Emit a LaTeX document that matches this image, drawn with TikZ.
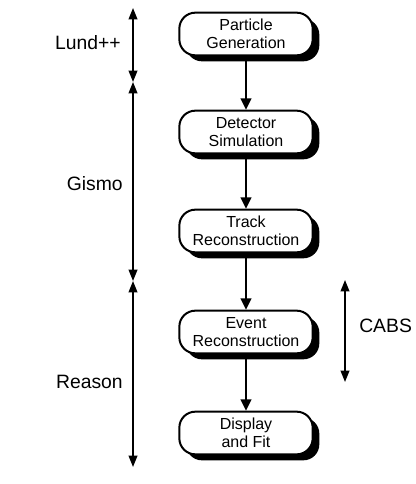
\documentclass[tikz,border=0pt]{standalone}
\usepackage{fontspec}
\setmainfont{Liberation Sans}
\usepackage{tikz}
\usetikzlibrary{arrows.meta, positioning, shadows}

\begin{document}
\begin{tikzpicture}[x=0.75pt, y=-0.75pt,
  stage/.style={draw=black, line width=1.5pt, fill=white, rounded corners=12pt,
    minimum width=100pt, minimum height=32pt, align=center, inner sep=1pt,
    font=\fontsize{12}{13.5}\selectfont,
    drop shadow={shadow xshift=5pt, shadow yshift=-4.5pt, fill=black, opacity=1}},
  flow/.style={line width=1.4pt, -{Triangle[length=8.5pt, width=8pt]}},
  span/.style={line width=1.3pt, {Triangle[length=8.5pt, width=6.5pt]}-{Triangle[length=8.5pt, width=6.5pt]}},
  tool/.style={font=\fontsize{14.5}{16}\selectfont, inner sep=0pt}]
  \useasboundingbox (0,0) rectangle (415,484);
  % processing chain (centre column)
  \node[stage] (gen) at (246,34)  {Particle\\Generation};
  \node[stage] (sim) at (246,132) {Detector\\Simulation};
  \node[stage] (trk) at (246,231) {Track\\Reconstruction};
  \node[stage] (evt) at (246,332) {Event\\Reconstruction};
  \node[stage] (fit) at (246,433) {Display\\and Fit};
  \foreach \a/\b in {gen/sim, sim/trk, trk/evt, evt/fit} {
    \draw[flow] (\a) -- (\b);
  }
  % program ranges on the left
  \coordinate (lt)  at (133,8);
  \coordinate (lj1) at (133,82);
  \coordinate (lj2) at (133,281);
  \coordinate (lb)  at (133,467);
  \draw[span] (lt) -- (lj1);
  \draw[span] (lj1) -- (lj2);
  \draw[span] (lj2) -- (lb);
  \node[tool, anchor=east] (lund)   at (121,43)  {Lund++};
  \node[tool, anchor=east] (gismo)  at (123,184) {Gismo};
  \node[tool, anchor=east] (reason) at (123,382) {Reason};
  % CABS range on the right
  \coordinate (ct) at (345,280);
  \coordinate (cb) at (345,382);
  \draw[span] (ct) -- (cb);
  \node[tool, anchor=west] (cabs) at (359,326) {CABS};
\end{tikzpicture}
\end{document}
